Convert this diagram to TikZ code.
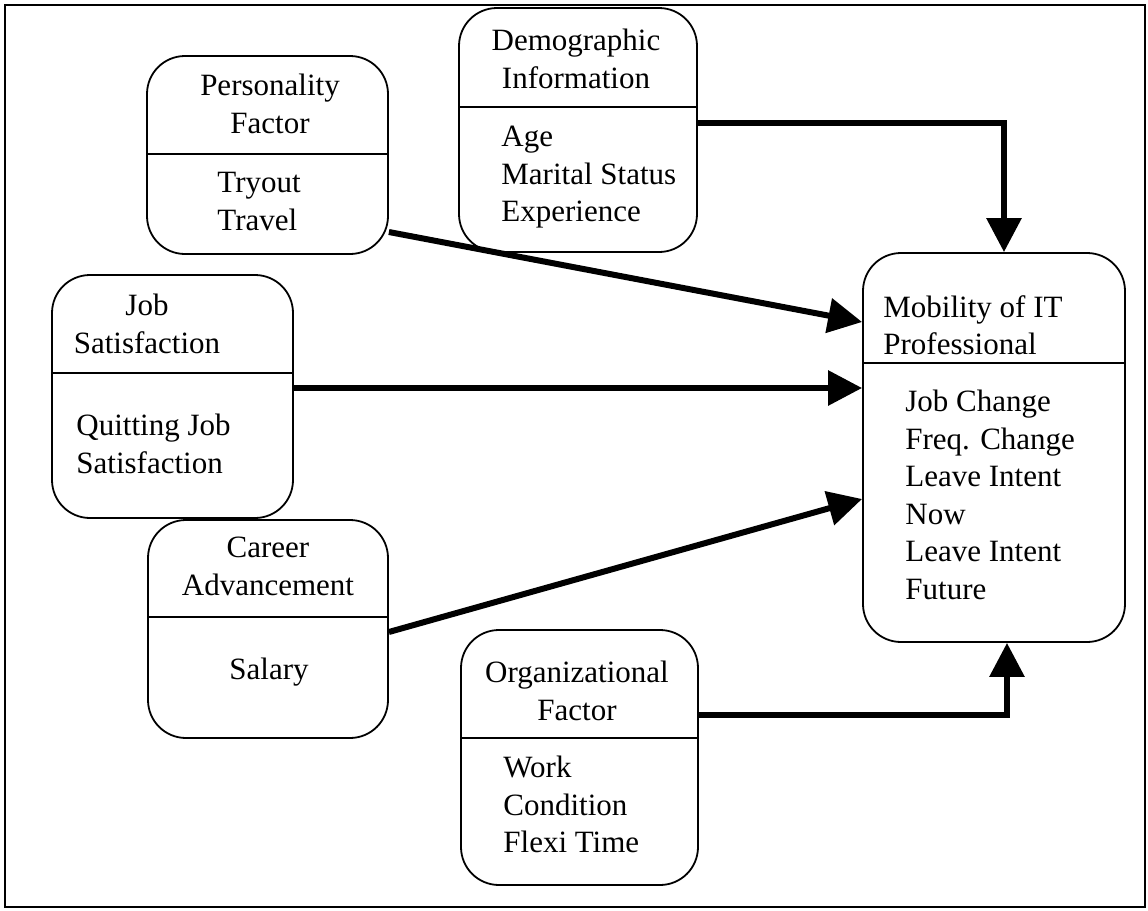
\documentclass[tikz,border=0pt]{standalone}
\usepackage{fontspec}
\setmainfont{Liberation Serif}
\usetikzlibrary{arrows.meta,calc,fit}
\tikzset{
  box/.style={draw, line width=0.9pt, rounded corners=19pt, inner sep=0pt},
  divline/.style={line width=0.9pt},
  txt/.style={inner sep=0pt, font=\fontsize{15.5pt}{18.75pt}\selectfont},
  txtc/.style={txt, align=center, anchor=north},
  txtl/.style={txt, align=left, anchor=north west},
  arr/.style={line width=3pt, -{Triangle[length=17pt,width=17pt]}},
  frame/.style={line width=1pt}
}
\begin{document}
\begin{tikzpicture}[x=0.5pt,y=-0.5pt]
\useasboundingbox (0,0) rectangle (1148,911);
\draw[frame] (5,5) rectangle (1145,907);

% boxes
\node[box, fit={(147,56) (388,254)}] (pers) {};
\node[box, fit={(459,8) (697,252)}] (demo) {};
\node[box, fit={(863,253) (1125,642)}] (mob) {};
\node[box, fit={(52,275) (293,518)}] (job) {};
\node[box, fit={(148,520) (388,738)}] (car) {};
\node[box, fit={(461,630) (698,885)}] (org) {};

% dividers
\draw[divline] (pers.west |- 0,154) -- (pers.east |- 0,154);
\draw[divline] (demo.west |- 0,107) -- (demo.east |- 0,107);
\draw[divline] (mob.west |- 0,363) -- (mob.east |- 0,363);
\draw[divline] (job.west |- 0,373) -- (job.east |- 0,373);
\draw[divline] (car.west |- 0,617) -- (car.east |- 0,617);
\draw[divline] (org.west |- 0,738) -- (org.east |- 0,738);

% texts
\node[txtc] (persh) at (270,74) {Personality\\Factor};
\node[txtl] (persb) at (217,172) {Tryout\\Travel};
\node[txtc] (demoh) at (576,29) {Demographic\\Information};
\node[txtl] (demob) at (501,126) {Age\\Marital Status\\Experience};
\node[txtl] (mobh) at (883,295) {Mobility of IT\\Professional};
\node[txtl] (mobb) at (905,390) {Job Change\\Freq. Change\\Leave Intent\\Now\\Leave Intent\\Future};
\node[txtc] (jobh) at (147,294) {Job\\Satisfaction};
\node[txtl] (jobb) at (76,414) {Quitting Job\\Satisfaction};
\node[txtc] (carh) at (268,537) {Career\\Advancement};
\node[txtc] (carb) at (269,658) {Salary};
\node[txtc] (orgh) at (577,661) {Organizational\\Factor};
\node[txtl] (orgb) at (503,756) {Work\\Condition\\Flexi Time};

% connectors
\draw[arr] (demo.east |- 0,123) -| ($(mob.north)+(10,0)$);
\draw[arr] (pers.east |- 0,232) -- (mob.west |- 0,322);
\draw[arr] (job.east |- 0,388) -- (mob.west |- 0,388);
\draw[arr] (car.east |- 0,632) -- (mob.west |- 0,499);
\draw[arr] (org.east |- 0,715) -| ($(mob.south)+(13,0)$);
\end{tikzpicture}
\end{document}
